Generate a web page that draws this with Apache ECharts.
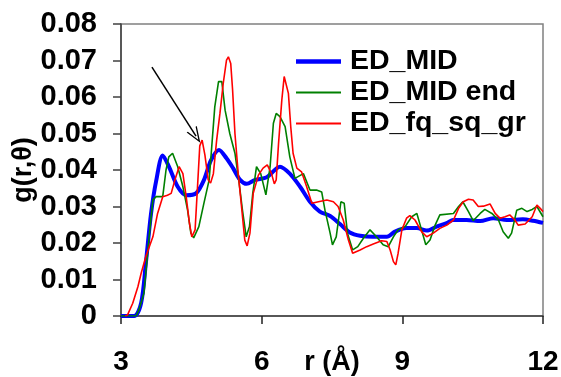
<!DOCTYPE html>
<html><head><meta charset="utf-8">
<script src="https://cdn.jsdelivr.net/npm/echarts@6/dist/echarts.min.js"></script>
<style>html,body{margin:0;padding:0;background:#fff}#c{width:561px;height:377px}</style>
</head><body><div id="c"></div>
<script>
const xTicks = [3, 6, 9, 12];
const yTicks = [0, 0.01, 0.02, 0.03, 0.04, 0.05, 0.06, 0.07, 0.08];
const seriesNames = ['ED_MID', 'ED_MID end', 'ED_fq_sq_gr'];
const edMid = [[3,0],[3.28,0],[3.43,0.0036],[3.53,0.0145],[3.64,0.028],[3.75,0.037],[3.89,0.044],[4.02,0.041],[4.21,0.0354],[4.39,0.0331],[4.6,0.0336],[4.77,0.0373],[4.92,0.0427],[5.09,0.0455],[5.25,0.0432],[5.39,0.0405],[5.54,0.0373],[5.68,0.0362],[5.86,0.0373],[6.11,0.038],[6.39,0.0409],[6.6,0.039],[6.82,0.0354],[7.03,0.0313],[7.24,0.0286],[7.46,0.0274],[7.67,0.0252],[7.88,0.0229],[8.1,0.022],[8.37,0.0217],[8.67,0.0217],[8.84,0.0231],[9.09,0.0241],[9.31,0.0241],[9.52,0.0234],[9.73,0.0245],[9.97,0.0256],[10.08,0.0263],[10.37,0.0263],[10.66,0.026],[10.94,0.0268],[11.23,0.0263],[11.57,0.0265],[11.79,0.0261],[12,0.0255]];
const edMidEnd = [[3,0],[3.32,0],[3.38,0.0016],[3.49,0.0063],[3.6,0.0217],[3.68,0.0318],[3.75,0.0327],[3.89,0.0327],[3.96,0.04],[4.02,0.0436],[4.1,0.0446],[4.21,0.0409],[4.32,0.0354],[4.42,0.029],[4.49,0.0227],[4.55,0.0214],[4.66,0.0245],[4.77,0.031],[4.88,0.0373],[4.93,0.0455],[5.0,0.0573],[5.08,0.0642],[5.15,0.0642],[5.22,0.0564],[5.32,0.05],[5.43,0.0446],[5.52,0.0364],[5.59,0.029],[5.67,0.0217],[5.74,0.0245],[5.81,0.0336],[5.89,0.0409],[5.98,0.039],[6.09,0.0332],[6.18,0.0409],[6.25,0.0528],[6.31,0.0555],[6.39,0.0546],[6.5,0.0519],[6.6,0.0436],[6.71,0.0377],[6.89,0.039],[7.03,0.0345],[7.17,0.0345],[7.28,0.034],[7.35,0.029],[7.46,0.0227],[7.51,0.0195],[7.59,0.0217],[7.69,0.0313],[7.76,0.0309],[7.83,0.0227],[7.94,0.0181],[8.05,0.019],[8.17,0.0213],[8.31,0.0236],[8.45,0.0217],[8.59,0.0195],[8.7,0.019],[8.81,0.0217],[8.91,0.0236],[9.06,0.0245],[9.2,0.0272],[9.31,0.0281],[9.41,0.0236],[9.5,0.0195],[9.59,0.0208],[9.7,0.0249],[9.8,0.0277],[10.09,0.0281],[10.2,0.03],[10.29,0.0313],[10.41,0.0286],[10.51,0.0261],[10.66,0.0281],[10.76,0.0292],[10.91,0.0281],[11.05,0.0263],[11.15,0.0231],[11.26,0.0213],[11.33,0.0227],[11.44,0.029],[11.55,0.0295],[11.66,0.0286],[11.77,0.0292],[11.87,0.03],[12,0.0272]];
const edFqSqGr = [[3.09,0],[3.14,0.0003],[3.25,0.0035],[3.36,0.008],[3.43,0.0117],[3.53,0.0163],[3.68,0.0217],[3.78,0.0281],[3.89,0.0327],[3.99,0.0331],[4.07,0.0336],[4.15,0.0373],[4.24,0.0409],[4.32,0.039],[4.39,0.0327],[4.46,0.0254],[4.51,0.0217],[4.58,0.0236],[4.64,0.0373],[4.68,0.0466],[4.73,0.0482],[4.79,0.0441],[4.86,0.0373],[4.91,0.0364],[4.97,0.039],[5.04,0.0482],[5.11,0.0555],[5.18,0.0637],[5.25,0.0701],[5.29,0.071],[5.34,0.0692],[5.38,0.0619],[5.43,0.05],[5.5,0.039],[5.57,0.03],[5.64,0.0208],[5.69,0.0192],[5.75,0.0227],[5.82,0.0336],[5.93,0.0386],[6.03,0.0405],[6.12,0.0414],[6.21,0.039],[6.27,0.0362],[6.31,0.0373],[6.36,0.0473],[6.43,0.0592],[6.48,0.0656],[6.52,0.066],[6.57,0.061],[6.62,0.0519],[6.67,0.0446],[6.75,0.0405],[6.85,0.0395],[6.96,0.0354],[7.07,0.0309],[7.21,0.0313],[7.39,0.0318],[7.53,0.0313],[7.63,0.03],[7.74,0.0263],[7.85,0.0208],[7.94,0.0172],[8.1,0.0181],[8.24,0.019],[8.38,0.0197],[8.56,0.0206],[8.67,0.0204],[8.74,0.0181],[8.81,0.0149],[8.86,0.014],[8.91,0.0172],[8.99,0.0236],[9.09,0.0268],[9.16,0.0275],[9.27,0.0263],[9.41,0.0231],[9.52,0.0217],[9.66,0.0227],[9.8,0.024],[9.95,0.0249],[10.09,0.0263],[10.2,0.0295],[10.3,0.0313],[10.41,0.032],[10.51,0.0318],[10.62,0.03],[10.73,0.0301],[10.87,0.0307],[10.98,0.0281],[11.08,0.0268],[11.19,0.0272],[11.29,0.0277],[11.4,0.0263],[11.47,0.0249],[11.62,0.0252],[11.77,0.0272],[11.87,0.0304],[11.94,0.0295],[12,0.0286]];
const arrowFrom = [3.66, 0.0682];
const arrowTo = [4.6, 0.0493];

const FONT = '"Liberation Sans", Arial, sans-serif';
const chart = echarts.init(document.getElementById('c'), null, {renderer: 'canvas'});
chart.setOption({
  animation: false,
  backgroundColor: '#fff',
  grid: {left: 121, top: 24, right: 18, bottom: 61, show: true, borderColor: '#808080', borderWidth: 1.5,
         containLabel: false, outerBoundsMode: 'none'},
  legend: {
    left: 291, top: 42, orient: 'vertical', itemWidth: 45, itemHeight: 14, itemGap: 2,
    symbolKeepAspect: true,
    data: [
      {name: seriesNames[0], icon: 'path://M0,0H45V4.5H0Z', itemStyle: {color: '#0000ff'}},
      {name: seriesNames[1], icon: 'path://M0,0H45V2H0Z', itemStyle: {color: '#008000'}},
      {name: seriesNames[2], icon: 'path://M0,0H45V2H0Z', itemStyle: {color: '#ff0000'}}
    ],
    textStyle: {fontFamily: FONT, fontWeight: 'bold', fontSize: 28.5, color: '#000', padding: [0,0,0,4]},
    selectedMode: false
  },
  xAxis: {
    type: 'value', min: xTicks[0], max: xTicks[xTicks.length-1], interval: 3,
    name: 'r (Å)', nameLocation: 'middle', nameGap: 33, nameMoveOverlap: false,
    nameTextStyle: {fontFamily: FONT, fontWeight: 'bold', fontSize: 27, color: '#000', verticalAlign: 'top'},
    axisLine: {show: true, lineStyle: {color: '#404040', width: 1.5}},
    axisTick: {show: true, inside: false, length: 8, lineStyle: {color: '#202020', width: 1.5}},
    axisLabel: {fontFamily: FONT, fontWeight: 'bold', fontSize: 28, color: '#000', margin: 32},
    splitLine: {show: false}
  },
  yAxis: {
    type: 'value', min: yTicks[0], max: yTicks[yTicks.length-1], interval: 0.01,
    name: 'g(r,θ)', nameLocation: 'middle', nameGap: 84, nameRotate: 90, nameMoveOverlap: false,
    nameTextStyle: {fontFamily: FONT, fontWeight: 'bold', fontSize: 27, color: '#000'},
    axisLine: {show: true, lineStyle: {color: '#404040', width: 1.5}},
    axisTick: {show: true, inside: false, length: 8, lineStyle: {color: '#404040', width: 1.5}},
    axisLabel: {fontFamily: FONT, fontWeight: 'bold', fontSize: 29, color: '#000', margin: 24,
      formatter: v => (Math.abs(v) < 1e-9 ? '0' : v.toFixed(2))},
    splitLine: {show: false}
  },
  series: [
    {name: seriesNames[0], type: 'line', data: edMid, symbol: 'none', showSymbol: false, smooth: 0.3,
     lineStyle: {color: '#0000ff', width: 4}, itemStyle: {color: '#0000ff'}, z: 2},
    {name: seriesNames[1], type: 'line', data: edMidEnd, symbol: 'none', showSymbol: false,
     lineStyle: {color: '#008000', width: 1.6}, itemStyle: {color: '#008000'}, z: 3},
    {name: seriesNames[2], type: 'line', data: edFqSqGr, symbol: 'none', showSymbol: false,
     lineStyle: {color: '#ff0000', width: 1.6}, itemStyle: {color: '#ff0000'}, z: 4,
     markLine: {
       silent: true, animation: false,
       symbol: ['none', 'path://M0,0 L6,12 L4.6,12 L0,2.8 L-4.6,12 L-6,12 Z'],
       symbolSize: [12, 16],
       label: {show: false},
       lineStyle: {color: '#000', width: 1.5, type: 'solid'},
       emphasis: {disabled: true},
       data: [[{coord: arrowFrom}, {coord: arrowTo}]]
     }}
  ]
});
</script></body></html>
